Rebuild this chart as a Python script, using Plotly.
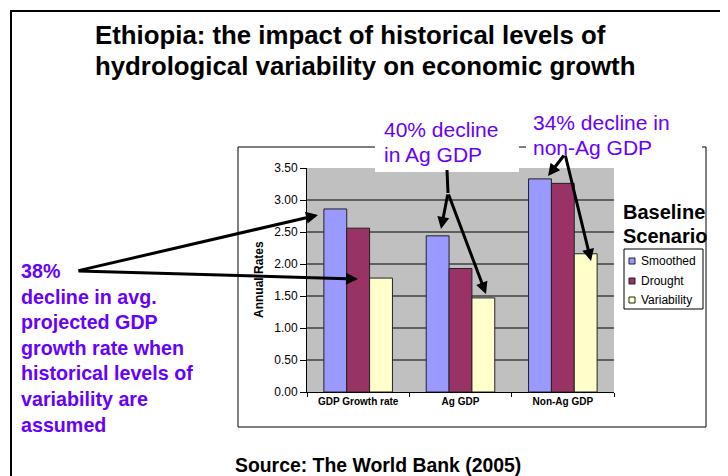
import plotly.graph_objects as go

# ---------------- data ----------------
categories = ["GDP Growth rate", "Ag GDP", "Non-Ag GDP"]
series_names = ["Smoothed", "Drought", "Variability"]
smoothed = [2.86, 2.44, 3.33]
drought = [2.56, 1.93, 3.26]
variability = [1.78, 1.47, 2.16]
y_tick_vals = [0.0, 0.5, 1.0, 1.5, 2.0, 2.5, 3.0, 3.5]
y_tick_text = ["0.00", "0.50", "1.00", "1.50", "2.00", "2.50", "3.00", "3.50"]
series_colors = ["#9999FF", "#993366", "#FFFFCC"]

title_lines = ["Ethiopia: the impact of historical levels of",
               "hydrological variability on economic growth"]
left_note = ["38%", "decline in avg.", "projected GDP", "growth rate when",
             "historical levels of", "variability are", "assumed"]
ag_note = ["40% decline", "in Ag GDP"]
nonag_note = ["34% decline in", "non-Ag GDP"]
legend_title = ["Baseline", "Scenario"]
source_text = "Source: The World Bank (2005)"

# ---------------- geometry helpers ----------------
OFF = 8                      # page body margin of the browser
W, H = 728 - OFF, 476 - OFF
PL, PR, PT, PB = 307, 614, 168, 392   # plot area in screen pixels
FONT = "Liberation Sans, Arial, sans-serif"
PURPLE = "#6600FF"


def px(x):
    return (x - PL) / (PR - PL)


def py(y):
    return (PB - y) / (PB - PT)


fig = go.Figure()
for name, vals, col in zip(series_names, [smoothed, drought, variability], series_colors):
    fig.add_trace(go.Bar(
        x=categories, y=vals, name=name,
        marker=dict(color=col, line=dict(color="#222222", width=1)),
        showlegend=False,
    ))

shapes = []
annotations = []

# gridlines (not at the top edge)
for v in y_tick_vals[1:-1]:
    shapes.append(dict(type="line", xref="paper", yref="y", x0=0, x1=1, y0=v, y1=v,
                       line=dict(color="black", width=1), layer="below"))

# outer slide frame
shapes.append(dict(type="path", xref="paper", yref="paper",
                   path=f"M {px(11)},{py(480)} L {px(11)},{py(11)} L {px(732)},{py(11)}",
                   line=dict(color="black", width=2), layer="below"))
# chart box
shapes.append(dict(type="rect", xref="paper", yref="paper",
                   x0=px(238), x1=px(706), y0=py(427), y1=py(147),
                   line=dict(color="black", width=1), layer="below"))
# white backgrounds of the callout texts
shapes.append(dict(type="rect", xref="paper", yref="paper",
                   x0=px(375), x1=px(519), y0=py(172), y1=py(112),
                   line=dict(width=0), fillcolor="white", layer="above"))
shapes.append(dict(type="rect", xref="paper", yref="paper",
                   x0=px(526), x1=px(702), y0=py(164), y1=py(108),
                   line=dict(width=0), fillcolor="white", layer="above"))
# junction stem of the Ag GDP callout
shapes.append(dict(type="line", xref="paper", yref="paper",
                   x0=px(447), x1=px(448), y0=py(170), y1=py(193),
                   line=dict(color="black", width=3), layer="above"))

# custom legend box
shapes.append(dict(type="rect", xref="paper", yref="paper",
                   x0=px(624), x1=px(703), y0=py(309), y1=py(249),
                   line=dict(color="black", width=1), fillcolor="white", layer="above"))
leg_y = [261, 281, 300]
for name, col, yy in zip(series_names, series_colors, leg_y):
    shapes.append(dict(type="rect", xref="paper", yref="paper",
                       x0=px(629), x1=px(635), y0=py(yy + 3), y1=py(yy - 3),
                       line=dict(color="#222222", width=1), fillcolor=col, layer="above"))
    annotations.append(dict(text=name, xref="paper", yref="paper", x=px(639), y=py(yy),
                            xanchor="left", yanchor="middle", showarrow=False,
                            font=dict(family=FONT, size=12, color="black")))

# legend title
for line, yy in zip(legend_title, [212, 236]):
    annotations.append(dict(text=f"<b>{line}</b>", xref="paper", yref="paper",
                            x=px(621), y=py(yy), xanchor="left", yanchor="middle",
                            showarrow=False, font=dict(family=FONT, size=20, color="black")))

# title
for line, yy in zip(title_lines, [35, 66]):
    annotations.append(dict(text=f"<b>{line}</b>", xref="paper", yref="paper",
                            x=px(93), y=py(yy), xanchor="left", yanchor="middle",
                            showarrow=False, font=dict(family=FONT, size=25.8, color="black")))

# left note
annotations.append(dict(text="<b>" + "<br>".join(left_note) + "</b>", xref="paper", yref="paper",
                        x=px(19), y=py(348), xanchor="left", yanchor="middle", align="left",
                        showarrow=False, font=dict(family=FONT, size=19.7, color=PURPLE)))

# top notes
for line, yy in zip(ag_note, [129, 154]):
    annotations.append(dict(text=line, xref="paper", yref="paper", x=px(382), y=py(yy),
                            xanchor="left", yanchor="middle", showarrow=False,
                            font=dict(family=FONT, size=21, color=PURPLE)))
for line, yy in zip(nonag_note, [122, 147]):
    annotations.append(dict(text=line, xref="paper", yref="paper", x=px(531), y=py(yy),
                            xanchor="left", yanchor="middle", showarrow=False,
                            font=dict(family=FONT, size=21, color=PURPLE)))

# source
annotations.append(dict(text=f"<b>{source_text}</b>", xref="paper", yref="paper",
                        x=px(233), y=py(465), xanchor="left", yanchor="middle",
                        showarrow=False, font=dict(family=FONT, size=19.4, color="black")))

# y axis title
annotations.append(dict(text="<b>Annual Rates</b>", xref="paper", yref="paper",
                        x=px(259), y=py(280), xanchor="center", yanchor="middle",
                        textangle=-90, showarrow=False,
                        font=dict(family=FONT, size=12, color="black")))

# arrows: (tail_x, tail_y, tip_x, tip_y) in screen pixels
arrows = [
    (77, 271, 318, 215),
    (77, 271, 358, 279),
    (448, 193, 441, 229),
    (448, 193, 486, 294),
    (565, 154, 548, 176),
    (565, 154, 591, 261),
]
for x0, y0, x1, y1 in arrows:
    annotations.append(dict(text="", xref="paper", yref="paper", x=px(x1), y=py(y1),
                            ax=x0 - x1, ay=y0 - y1, axref="pixel", ayref="pixel",
                            showarrow=True, arrowhead=2, arrowsize=0.8, arrowwidth=3,
                            arrowcolor="black", standoff=0, startstandoff=0))

fig.update_layout(
    width=W, height=H,
    margin=dict(l=PL - OFF, r=728 - PR, t=PT - OFF, b=476 - PB, autoexpand=False),
    paper_bgcolor="white",
    plot_bgcolor="#C0C0C0",
    barmode="group", bargap=0.33, bargroupgap=0,
    shapes=shapes, annotations=annotations,
    showlegend=False,
    font=dict(family=FONT, color="black"),
)
fig.update_xaxes(
    type="category", showline=True, linecolor="black", linewidth=1,
    ticks="outside", tickson="boundaries", ticklen=4, tickcolor="black",
    tickfont=dict(family=FONT, size=10, color="black", weight="bold"),
    showgrid=False,
)
fig.update_yaxes(
    range=[0, 3.5], tickvals=y_tick_vals, ticktext=y_tick_text,
    showline=True, linecolor="black", linewidth=1,
    ticks="outside", ticklen=6, tickcolor="black",
    tickfont=dict(family=FONT, size=12, color="black"),
    showgrid=False, zeroline=False,
)

fig.write_html("out.html")
